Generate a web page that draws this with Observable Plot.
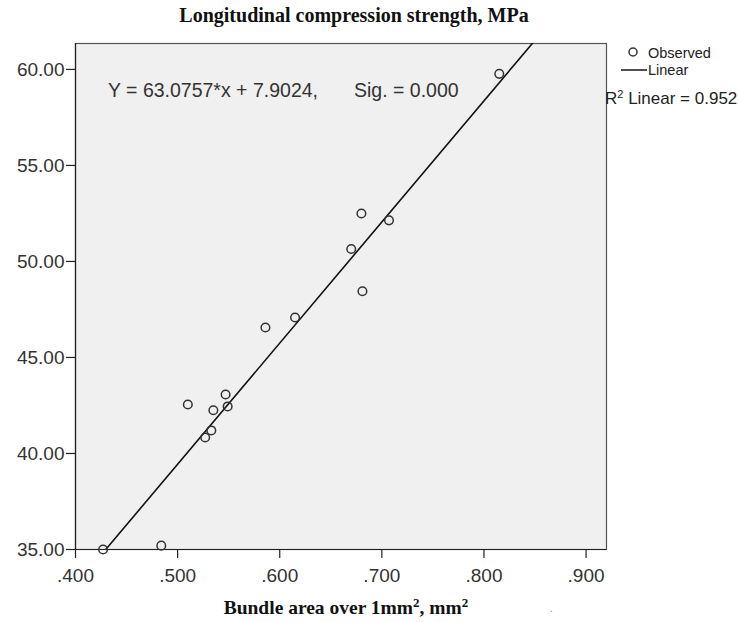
<!DOCTYPE html>
<html>
<head>
<meta charset="utf-8">
<script src="https://cdn.jsdelivr.net/npm/d3@7"></script>
<script src="https://cdn.jsdelivr.net/npm/@observablehq/plot@0.6"></script>
<style>
  html, body { margin: 0; padding: 0; background: #fff; }
  #chart { width: 738px; height: 622px; }
</style>
</head>
<body>
<div id="chart"></div>
<script>
// Observed data (bundle area over 1mm², longitudinal compression strength)
const bundleArea = [0.427, 0.484, 0.510, 0.527, 0.533, 0.535, 0.547, 0.549, 0.586, 0.615, 0.670, 0.680, 0.707, 0.681, 0.815];
const strength   = [35.0, 35.2, 42.55, 40.83, 41.2, 42.25, 43.07, 42.45, 46.56, 47.08, 50.65, 52.5, 52.14, 48.45, 59.77];

// Linear fit
const slope = 63.0757;
const intercept = 7.9024;
const rSquared = 0.952;

const xTicks = [0.4, 0.5, 0.6, 0.7, 0.8, 0.9];
const yTicks = [35, 40, 45, 50, 55, 60];
const xDomain = [0.4, 0.92];
const yDomain = [35, 61.35];

const points = bundleArea.map((x, i) => ({x, y: strength[i]}));
const fitLine = xDomain.map(x => ({x, y: slope * x + intercept}));

const sans = "'Liberation Sans', Arial, sans-serif";
const serif = "'Liberation Serif', 'Times New Roman', serif";

const chart = Plot.plot({
  width: 738,
  height: 622,
  marginLeft: 75,
  marginRight: 132,
  marginTop: 43,
  marginBottom: 73,
  style: {fontFamily: sans, fontSize: "19px", background: "#fff", color: "#222", overflow: "visible"},
  x: {domain: xDomain},
  y: {domain: yDomain},
  marks: [
    Plot.frame({fill: "#f0f0f0", stroke: "#555", strokeWidth: 1.2}),
    Plot.ruleX([xDomain[0]], {stroke: "#222", strokeWidth: 1.2}),
    Plot.ruleY([yDomain[0]], {stroke: "#222", strokeWidth: 1.2}),
    Plot.axisX({
      ticks: xTicks,
      tickFormat: d => d3.format(".3f")(d).replace(/^0/, ""),
      tickSize: 9, tickPadding: 10, label: null, stroke: "#222", strokeWidth: 1.2, fill: "#333"
    }),
    Plot.axisY({
      ticks: yTicks,
      tickFormat: d3.format(".2f"),
      tickSize: 9, tickPadding: 2, label: null, stroke: "#222", strokeWidth: 1.2, fill: "#333"
    }),
    Plot.line(fitLine, {x: "x", y: "y", stroke: "#111", strokeWidth: 1.6, clip: true}),
    Plot.dot(points, {x: "x", y: "y", r: 4.3, stroke: "#333", strokeWidth: 1.5, fill: "none"})
  ]
});

document.getElementById("chart").appendChild(chart);

const svg = d3.select(chart);
const eqText = `Y = ${slope.toFixed(4)}*x + ${intercept.toFixed(4)},`;

function txt(x, y, anchor, family, size, fill, weight) {
  return svg.append("text").attr("x", x).attr("y", y).attr("text-anchor", anchor)
    .attr("font-family", family).attr("font-size", size).attr("fill", fill)
    .attr("font-weight", weight || "normal");
}

// Title
txt(354, 22, "middle", serif, 20, "#111", "bold").text("Longitudinal compression strength, MPa");

// Equation annotation
txt(108, 97, "start", sans, 19.5, "#333").text(eqText);
txt(354, 97, "start", sans, 19.5, "#333").text("Sig. = 0.000");

// Legend
svg.append("circle").attr("cx", 633).attr("cy", 52).attr("r", 4)
  .attr("fill", "none").attr("stroke", "#333").attr("stroke-width", 1.5);
txt(648, 58, "start", sans, 14.5, "#222").text("Observed");
svg.append("line").attr("x1", 621).attr("x2", 647).attr("y1", 70).attr("y2", 70)
  .attr("stroke", "#222").attr("stroke-width", 1.6);
txt(648, 75, "start", sans, 14.5, "#222").text("Linear");
const r2 = txt(605, 104, "start", sans, 17, "#222");
r2.append("tspan").text("R");
r2.append("tspan").attr("font-size", 11).attr("dy", -6).text("2");
r2.append("tspan").attr("dy", 6).text(` Linear = ${rSquared.toFixed(3)}`);

// X axis label
const xl = txt(346, 614, "middle", serif, 19.5, "#111", "bold");
xl.append("tspan").text("Bundle area over 1mm");
xl.append("tspan").attr("font-size", 13).attr("dy", -7).text("2");
xl.append("tspan").attr("dy", 7).text(", mm");
xl.append("tspan").attr("font-size", 13).attr("dy", -7).text("2");

txt(550, 612, "start", sans, 10, "#888").text(".");
</script>
</body>
</html>
